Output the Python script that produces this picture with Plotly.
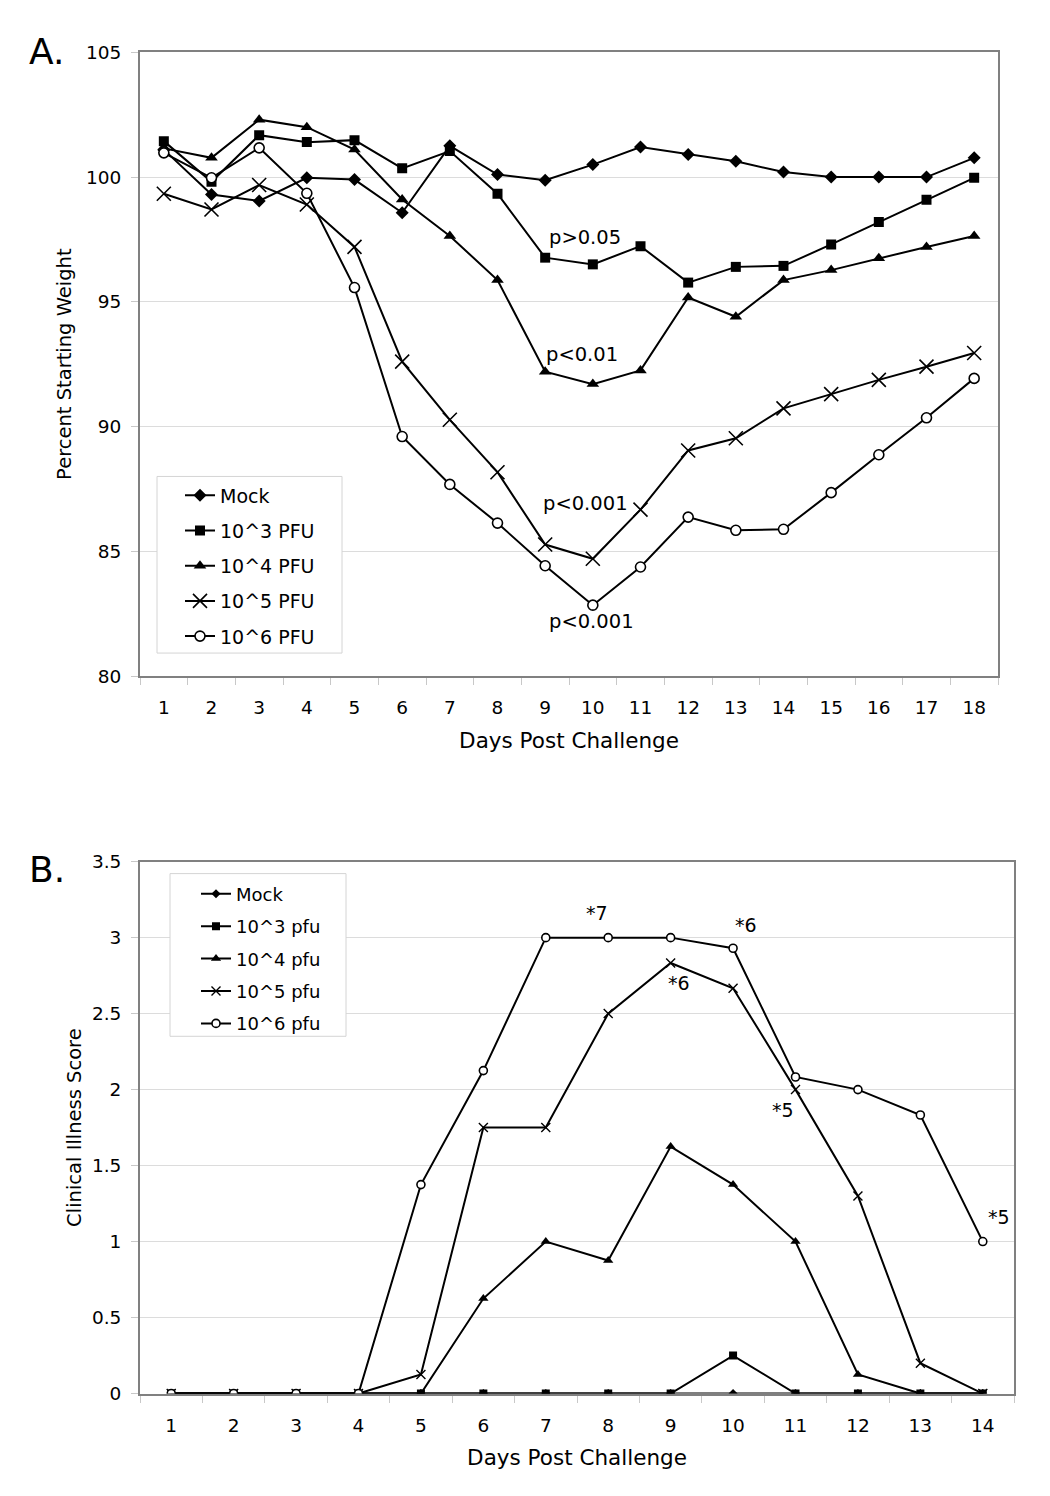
import plotly.graph_objects as go

# ---------------- Data: Panel A (percent starting weight) ----------------
days_a = list(range(1, 19))
mock_a = [101.1, 99.3, 99.04, 99.97, 99.9, 98.57, 101.25, 100.1, 99.87, 100.5,
          101.2, 100.9, 100.63, 100.2, 100.0, 100.0, 100.0, 100.77]
pfu3_a = [101.44, 99.81, 101.68, 101.4, 101.48, 100.35, 101.04, 99.33, 96.77, 96.5,
          97.23, 95.77, 96.4, 96.44, 97.3, 98.2, 99.09, 99.97]
pfu4_a = [101.15, 100.77, 102.3, 102.0, 101.1, 99.1, 97.64, 95.87, 92.2, 91.7,
          92.25, 95.17, 94.4, 95.87, 96.27, 96.75, 97.2, 97.64]
pfu5_a = [99.33, 98.7, 99.68, 98.9, 97.2, 92.6, 90.27, 88.17, 85.27, 84.7,
          86.67, 89.04, 89.53, 90.73, 91.3, 91.87, 92.4, 92.95]
pfu6_a = [100.97, 99.97, 101.17, 99.35, 95.57, 89.6, 87.68, 86.13, 84.42, 82.84,
          84.37, 86.37, 85.84, 85.88, 87.35, 88.87, 90.35, 91.93]
names_a = ["Mock", "10^3 PFU", "10^4 PFU", "10^5 PFU", "10^6 PFU"]
pvals_text = ["p>0.05", "p<0.01", "p<0.001", "p<0.001"]
pvals_x = [9.84, 9.77, 9.84, 9.98]
pvals_y = [97.56, 92.88, 86.92, 82.2]

# ---------------- Data: Panel B (clinical illness score) ----------------
days_b = list(range(1, 15))
mock_b = [0] * 14
pfu3_b = [0, 0, 0, 0, 0, 0, 0, 0, 0, 0.25, 0, 0, 0, 0]
pfu4_b = [0, 0, 0, 0, 0, 0.625, 1.0, 0.875, 1.625, 1.375, 1.0, 0.125, 0, 0]
pfu5_b = [0, 0, 0, 0, 0.125, 1.75, 1.75, 2.5, 2.833, 2.667, 2.0, 1.3, 0.2, 0]
pfu6_b = [0, 0, 0, 0, 1.375, 2.125, 3.0, 3.0, 3.0, 2.93, 2.083, 2.0, 1.833, 1.0]
names_b = ["Mock", "10^3 pfu", "10^4 pfu", "10^5 pfu", "10^6 pfu"]
stars_text = ["*7", "*6", "*6", "*5", "*5"]
stars_x = [7.82, 10.21, 9.13, 10.8, 14.26]
stars_y = [3.165, 3.08, 2.70, 1.865, 1.162]

FONT = "DejaVu Sans, Liberation Sans, sans-serif"
BLACK = "#000000"
AXIS = "#808080"
GRID = "#dcdcdc"
TICK = "#c8c8c8"
LEGBORDER = "#d4d4d4"

W, H = 1050, 1496


def py(y_px):
    """pixel row (from top, as seen in the photographed page) -> paper fraction"""
    yf = (y_px - 8.6) / 0.988
    return 1 - yf / H


def px(x_px):
    return x_px / W


fig = go.Figure()

sym_a = [
    dict(symbol="diamond", size=10, color=BLACK),
    dict(symbol="square", size=10, color=BLACK),
    dict(symbol="triangle-up", size=11, color=BLACK),
    dict(symbol="x-thin", size=14, color=BLACK, line=dict(color=BLACK, width=1.6)),
    dict(symbol="circle", size=10, color="white", line=dict(color=BLACK, width=1.6)),
]
for name, ys, mk in zip(names_a, [mock_a, pfu3_a, pfu4_a, pfu5_a, pfu6_a], sym_a):
    fig.add_trace(go.Scatter(
        x=days_a, y=ys, name=name, mode="lines+markers",
        line=dict(color=BLACK, width=2), marker=mk,
        xaxis="x", yaxis="y", legend="legend", legendgroup=name,
    ))

sym_b = [
    dict(symbol="diamond", size=7, color=BLACK),
    dict(symbol="square", size=8, color=BLACK),
    dict(symbol="triangle-up", size=9, color=BLACK),
    dict(symbol="x-thin", size=9, color=BLACK, line=dict(color=BLACK, width=1.4)),
    dict(symbol="circle", size=8, color="white", line=dict(color=BLACK, width=1.6)),
]
for name, ys, mk in zip(names_b, [mock_b, pfu3_b, pfu4_b, pfu5_b, pfu6_b], sym_b):
    fig.add_trace(go.Scatter(
        x=days_b, y=ys, name=name, mode="lines+markers",
        line=dict(color=BLACK, width=2), marker=mk,
        xaxis="x2", yaxis="y2", legend="legend2", legendgroup=name + "b",
    ))

dom_ax = [px(140), px(998)]
dom_ay = [py(675), py(50)]
dom_bx = [px(140), px(1014)]
dom_by = [py(1394), py(861)]


def xaxis_cfg(n, domain, anchor, standoff):
    return dict(
        domain=domain, anchor=anchor, range=[0.5, n + 0.5],
        tickmode="array", tickvals=list(range(1, n + 1)),
        ticktext=[str(i) for i in range(1, n + 1)],
        ticks="", showgrid=False, zeroline=False,
        showline=True, linecolor=AXIS, linewidth=2, mirror=True,
        tickfont=dict(family=FONT, size=18.5, color=BLACK),
        ticklabelstandoff=14,
        minor=dict(tickmode="array", tickvals=[i + 0.5 for i in range(0, n + 1)],
                   ticks="outside", ticklen=7, tickcolor=TICK, tickwidth=1, showgrid=False),
        title=dict(text="Days Post Challenge", font=dict(family=FONT, size=21.5, color=BLACK),
                   standoff=standoff),
    )


def yaxis_cfg(domain, anchor, rng, dtick, title, standoff):
    return dict(
        domain=domain, anchor=anchor, range=rng, dtick=dtick, tick0=0,
        showgrid=True, gridcolor=GRID, gridwidth=1, zeroline=False,
        showline=True, linecolor=AXIS, linewidth=2, mirror=True,
        ticks="outside", ticklen=7, tickcolor=TICK, tickwidth=1,
        tickfont=dict(family=FONT, size=18.5, color=BLACK),
        ticklabelstandoff=6,
        title=dict(text=title, font=dict(family=FONT, size=19.5, color=BLACK), standoff=standoff),
    )


annotations = []
for t, x, y in zip(pvals_text, pvals_x, pvals_y):
    annotations.append(dict(x=x, y=y, xref="x", yref="y", text=t, showarrow=False,
                            font=dict(family=FONT, size=19.5, color=BLACK)))
for t, x, y in zip(stars_text, stars_x, stars_y):
    annotations.append(dict(x=x, y=y, xref="x2", yref="y2", text=t, showarrow=False,
                            font=dict(family=FONT, size=19, color=BLACK)))
annotations.append(dict(x=px(27), y=py(49), xref="paper", yref="paper", text="A.",
                        showarrow=False, xanchor="left", yanchor="middle",
                        font=dict(family=FONT, size=36, color=BLACK)))
annotations.append(dict(x=px(27), y=py(869), xref="paper", yref="paper", text="B.",
                        showarrow=False, xanchor="left", yanchor="middle",
                        font=dict(family=FONT, size=36, color=BLACK)))

# legend frames (white boxes hiding the gridlines, like the original chart)
shapes = [
    dict(type="rect", xref="paper", yref="paper", layer="above",
         x0=px(157), x1=px(342), y0=py(652), y1=py(475),
         fillcolor="white", line=dict(color=LEGBORDER, width=1)),
    dict(type="rect", xref="paper", yref="paper", layer="above",
         x0=px(170), x1=px(346), y0=py(1036), y1=py(873),
         fillcolor="white", line=dict(color=LEGBORDER, width=1)),
]

legend_common = dict(
    bgcolor="rgba(0,0,0,0)", borderwidth=0,
    xanchor="left", yanchor="top", traceorder="grouped",
    itemclick=False, itemdoubleclick=False,
)

fig.update_layout(
    width=W, height=H, margin=dict(l=0, r=0, t=0, b=0),
    paper_bgcolor="white", plot_bgcolor="white",
    font=dict(family=FONT, color=BLACK),
    xaxis=xaxis_cfg(18, dom_ax, "y", 16),
    yaxis=yaxis_cfg(dom_ay, "x", [80, 105], 5, "Percent Starting Weight", 9),
    xaxis2=xaxis_cfg(14, dom_bx, "y2", 15),
    yaxis2=yaxis_cfg(dom_by, "x2", [0, 3.5], 0.5, "Clinical Illness Score", 5),
    legend=dict(x=px(180), y=py(475), font=dict(family=FONT, size=19, color=BLACK),
                tracegroupgap=7.5, **legend_common),
    legend2=dict(x=px(196), y=py(875), font=dict(family=FONT, size=18, color=BLACK),
                 tracegroupgap=6, **legend_common),
    annotations=annotations,
    shapes=shapes,
    showlegend=True,
)

post = (
    "document.documentElement.style.margin='0';"
    "document.body.style.margin='0';"
    "document.documentElement.style.overflow='hidden';"
    "document.body.style.overflow='hidden';"
    "var gd=document.getElementById('{plot_id}');"
    "gd.style.position='absolute';gd.style.top='0px';gd.style.left='0px';"
)
fig.write_html("out.html", config={"displayModeBar": False}, post_script=post)
